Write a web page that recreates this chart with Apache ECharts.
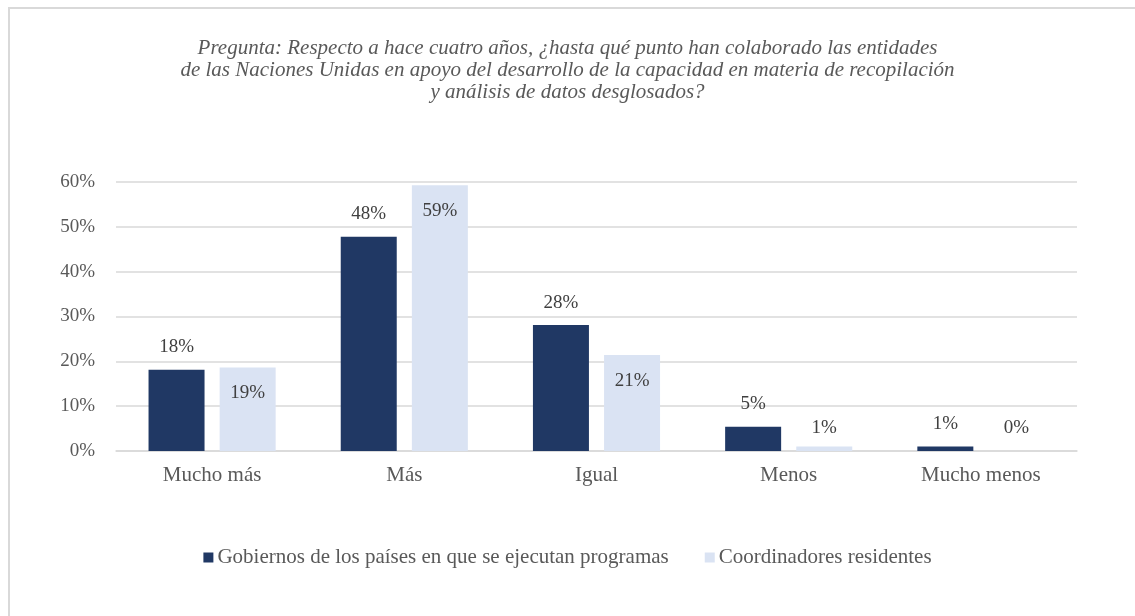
<!DOCTYPE html>
<html>
<head>
<meta charset="utf-8">
<script src="https://cdn.jsdelivr.net/npm/echarts@6/dist/echarts.min.js"></script>
<style>
  html, body { margin: 0; padding: 0; background: #fff; }
  #chart { width: 1135px; height: 616px; }
</style>
</head>
<body>
<div id="chart"></div>
<script>
// datos
var categorias = ['Mucho más', 'Más', 'Igual', 'Menos', 'Mucho menos'];
var gobiernos = [18.1, 47.8, 28.1, 5.4, 1.0];
var coordinadores = [18.6, 59.3, 21.4, 1.0, 0];
var nombresSeries = ['Gobiernos de los países en que se ejecutan programas', 'Coordinadores residentes'];
var titulo = 'Pregunta: Respecto a hace cuatro años, ¿hasta qué punto han colaborado las entidades\nde las Naciones Unidas en apoyo del desarrollo de la capacidad en materia de recopilación\ny análisis de datos desglosados?';

var fuente = '"Liberation Serif", "Times New Roman", serif';

function etiqueta(v) {
    return Math.round(v) + '%';
}

// etiquetas de coordinadores: dentro arriba si cabe, si no encima
var datosCoord = coordinadores.map(function (v) {
    if (v >= 10) {
        return { value: v, label: { position: 'insideTop', distance: 16 } };
    }
    return { value: v, label: { position: 'top', distance: v > 0 ? 9 : 13 } };
});

var myChart = echarts.init(document.getElementById('chart'));
myChart.setOption({
    animation: false,
    backgroundColor: '#fff',
    title: {
        text: titulo,
        left: 'center',
        top: 32,
        textStyle: {
            fontFamily: fuente,
            fontStyle: 'italic',
            fontWeight: 'normal',
            fontSize: 21,
            lineHeight: 22,
            color: '#595959',
            align: 'center'
        }
    },
    legend: {
        data: nombresSeries,
        bottom: 43,
        left: 'center',
        itemWidth: 10,
        itemHeight: 10,
        itemGap: 36,
        icon: 'rect',
        textStyle: { fontFamily: fuente, fontSize: 21, color: '#595959', padding: [0, 0, 0, -1] }
    },
    graphic: [{
        type: 'rect',
        shape: { x: 9, y: 8, width: 1300, height: 800 },
        style: { fill: 'none', stroke: '#d9d9d9', lineWidth: 2 },
        silent: true
    }],
    grid: { left: 116, right: 58, top: 182, bottom: 165, containLabel: false },
    xAxis: {
        type: 'category',
        data: categorias,
        axisTick: { show: false },
        axisLine: { lineStyle: { color: '#d9d9d9', width: 1.5 } },
        axisLabel: { fontFamily: fuente, fontSize: 21, color: '#595959', margin: 14 }
    },
    yAxis: {
        type: 'value',
        min: 0,
        max: 60,
        interval: 10,
        axisLine: { show: false },
        axisTick: { show: false },
        splitLine: { lineStyle: { color: '#d9d9d9', width: 1.5 } },
        axisLabel: { formatter: '{value}%', fontFamily: fuente, fontSize: 19, color: '#595959', margin: 21 }
    },
    series: [{
        name: nombresSeries[0],
        type: 'bar',
        data: gobiernos,
        barWidth: 56,
        barGap: '27%',
        itemStyle: { color: '#203864' },
        label: {
            show: true,
            position: 'top',
            distance: 13,
            fontFamily: fuente,
            fontSize: 19,
            color: '#404040',
            formatter: function (p) { return etiqueta(p.value); }
        }
    }, {
        name: nombresSeries[1],
        type: 'bar',
        data: datosCoord,
        barWidth: 56,
        itemStyle: { color: '#dae3f3' },
        label: {
            show: true,
            fontFamily: fuente,
            fontSize: 19,
            color: '#404040',
            formatter: function (p) { return etiqueta(p.value); }
        }
    }]
});
</script>
</body>
</html>
